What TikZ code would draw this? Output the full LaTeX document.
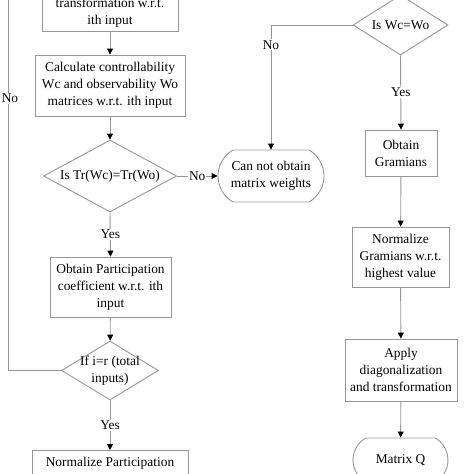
\documentclass[tikz,border=0pt]{standalone}
\usepackage{fontspec}
\setmainfont{Liberation Serif}
\usetikzlibrary{shapes.geometric,shapes.misc,arrows.meta}
\definecolor{lgray}{RGB}{150,150,150}
\tikzset{
  txt/.style={font=\fontsize{13.4}{17}\selectfont, align=center, text=black},
  box/.style={txt, draw=lgray, line width=0.9pt, rectangle, inner sep=1pt},
  dia/.style={draw=lgray, line width=0.9pt, diamond, inner sep=0pt, aspect=1.8},
  term/.style={txt, draw=lgray, line width=0.9pt, rounded rectangle, rounded rectangle arc length=120, inner sep=1pt},
  conn/.style={draw=lgray, line width=0.9pt, -{Triangle[length=6pt,width=6pt,color=black]}},
  plain/.style={draw=lgray, line width=0.9pt},
  lab/.style={txt, fill=white, inner sep=1pt}
}
\begin{document}
\begin{tikzpicture}[x=1pt,y=-1pt]
\useasboundingbox (0,0) rectangle (474,474);
% left column
\node[box, minimum width=136, minimum height=37] (b0) at (110,12.5) {transformation w.r.t.\\ith input};
\node[box, minimum width=150, minimum height=61] (b1) at (110,85.5) {Calculate controllability\\Wc and observability Wo\\matrices w.r.t. ith input};
\node[dia, minimum width=133, minimum height=72] (d1) at (110,176) {};
\node[txt] at (d1) {Is Tr(Wc)=Tr(Wo)};
\node[term, minimum width=108, minimum height=52] (t1) at (271,176) {Can not obtain\\matrix weights};
\node[box, minimum width=121, minimum height=60] (b2) at (110.5,287) {Obtain Participation\\coefficient w.r.t. ith\\input};
\node[dia, minimum width=97, minimum height=59] (d3) at (110,370.5) {};
\node[txt] at (d3) {If i=r (total\\inputs)};
\node[box, anchor=north, minimum width=156, minimum height=50,
      label={[txt, anchor=north, yshift=-4pt]north:Normalize Participation}] (b3) at (110,450) {};
\coordinate (loopTop) at (8,-10);
% right column
\node[dia, minimum width=95, minimum height=60] (d2) at (400.5,25) {};
\node[txt] at (d2) {Is Wc=Wo};
\node[box, minimum width=72, minimum height=46] (b4) at (401,153) {Obtain\\Gramians};
\node[box, minimum width=97, minimum height=60] (b5) at (400.5,257) {Normalize\\Gramians w.r.t.\\highest value};
\node[box, minimum width=112, minimum height=62] (b6) at (401,370) {Apply\\diagonalization\\and transformation};
\node[term, minimum width=97, minimum height=44] (t2) at (400.5,460) {Matrix Q};
% connectors
\draw[conn] (b0) -- (b1);
\draw[conn] (b1) -- (d1);
\draw[conn] (d1.south) -- node[lab]{Yes} (b2.north);
\draw[conn] (d1.east) -- node[lab]{No} (t1.west);
\draw[conn] (b2) -- (d3);
\draw[conn] (d3.south) -- node[lab]{Yes} (b3.north);
\draw[plain] (d3.west) -| node[lab, pos=0.858, xshift=2pt]{No} (loopTop);
\draw[conn] (d2.west) -| node[lab, pos=0.58]{No} (t1.north);
\draw[conn] (d2.south) -- node[lab]{Yes} (b4.north);
\draw[conn] (b4) -- (b5);
\draw[conn] (b5) -- (b6);
\draw[conn] (b6) -- (t2);
\end{tikzpicture}
\end{document}
